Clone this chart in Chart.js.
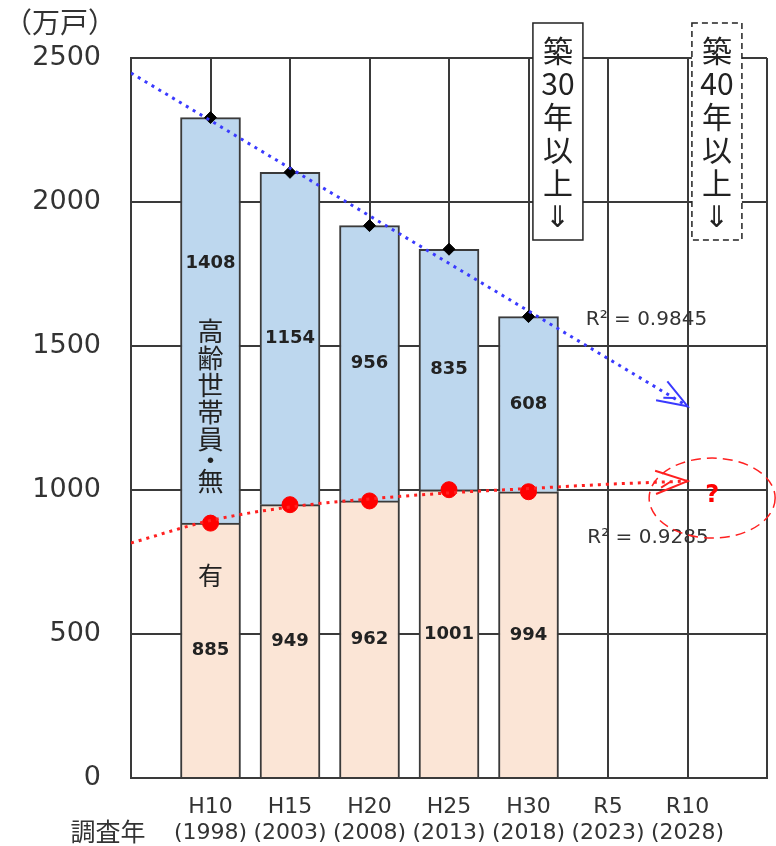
<!DOCTYPE html>
<html>
<head>
    <meta charset="utf-8">
    <title>築年数別 住宅戸数</title>
    <style>
        html, body {
            margin: 0;
            padding: 0;
            overflow: hidden;
            background-color: #ffffff;
        }
        #wrap {
            position: relative;
            width: 776px;
            height: 846px;
            overflow: hidden;
        }
        #chart {
            display: block;
        }
    </style>
    <script src="https://cdn.jsdelivr.net/npm/chart.js@4.4.0/dist/chart.umd.min.js"></script>
</head>
<body>
    <div id="wrap"><canvas id="chart"></canvas></div>
    <script>
        // data
        var categories = ["H10", "H15", "H20", "H25", "H30", "R5", "R10"];
        var years = ["(1998)", "(2003)", "(2008)", "(2013)", "(2018)", "(2023)", "(2028)"];
        var barX = [1, 2, 3, 4, 5];
        var withElderly = [885, 949, 962, 1001, 994];        // 高齢世帯員 有
        var withoutElderly = [1408, 1154, 956, 835, 608];    // 高齢世帯員 無
        var totals = [2293, 2103, 1918, 1836, 1602];
        var trendTotalX = [0, 7];
        var trendTotal = [2448, 1291];
        var trendWithX = [0, 1, 2, 3, 4, 5, 6, 7];
        var trendWith = [816, 894, 941, 969, 990, 1005, 1020, 1031];
        var yTicks = [0, 500, 1000, 1500, 2000, 2500];
        var xTicks = [0, 1, 2, 3, 4, 5, 6, 7, 8];
        var r2Labels = ["R² = 0.9845", "R² = 0.9285"];

        function pts(xs, ys) {
            return xs.map(function(x, i) { return { x: x, y: ys[i] }; });
        }

        var gridColor = "#3a3a3a";
        var textColor = "#333333";

        function arrowHead(ctx, tx, ty, angle, len, color) {
            ctx.save();
            ctx.strokeStyle = color;
            ctx.lineWidth = 2;
            ctx.beginPath();
            ctx.moveTo(tx - len * Math.cos(angle - 0.35), ty - len * Math.sin(angle - 0.35));
            ctx.lineTo(tx, ty);
            ctx.lineTo(tx - len * Math.cos(angle + 0.35), ty - len * Math.sin(angle + 0.35));
            ctx.moveTo(tx - len * 0.8 * Math.cos(angle - 0.2), ty - len * 0.8 * Math.sin(angle - 0.2));
            ctx.lineTo(tx - len * 0.5 * Math.cos(angle), ty - len * 0.5 * Math.sin(angle));
            ctx.stroke();
            ctx.restore();
        }

        function verticalBox(ctx, cx, top, lines, dashed) {
            ctx.save();
            ctx.fillStyle = "#ffffff";
            ctx.fillRect(cx - 25, top, 50, 217);
            ctx.strokeStyle = "#222222";
            ctx.lineWidth = 1.5;
            if (dashed) ctx.setLineDash([6, 4]);
            ctx.strokeRect(cx - 25, top, 50, 217);
            ctx.setLineDash([]);
            ctx.fillStyle = "#222222";
            ctx.textAlign = "center";
            ctx.textBaseline = "middle";
            ctx.font = "30px 'Noto Sans CJK JP'";
            lines.forEach(function(t, i) {
                ctx.fillText(t, cx, top + 28 + i * 33);
            });
            ctx.restore();
        }

        var extras = {
            id: "extras",
            beforeDraw: function(chart) {
                var ctx = chart.ctx;
                ctx.save();
                ctx.fillStyle = "#ffffff";
                ctx.fillRect(0, 0, chart.width, chart.height);
                ctx.restore();
            },
            afterDatasetsDraw: function(chart) {
                var ctx = chart.ctx;
                var xs = chart.scales.x;
                var ys = chart.scales.y;
                var lowMeta = chart.getDatasetMeta(4);
                ctx.save();
                ctx.fillStyle = "#222222";
                ctx.textAlign = "center";
                ctx.textBaseline = "middle";
                ctx.font = "bold 18px 'DejaVu Sans'";
                for (var i = 0; i < withElderly.length; i++) {
                    var bx = lowMeta.data[i].x;
                    ctx.fillText(String(withElderly[i]), bx, ys.getPixelForValue(withElderly[i] / 2));
                    var frac = i === 0 ? 0.64 : 0.5;
                    ctx.fillText(String(withoutElderly[i]), bx, ys.getPixelForValue(withElderly[i] + withoutElderly[i] * frac));
                }

                // vertical series names in the first bar
                var b0 = lowMeta.data[0].x;
                ctx.font = "26px 'Noto Sans CJK JP'";
                var chars = ["高", "齢", "世", "帯", "員", "・", "無"];
                var cy = 331;
                chars.forEach(function(c, k) {
                    if (c === "・" || chars[k - 1] === "・") cy -= 6;
                    ctx.fillText(c, b0, cy);
                    cy += 27;
                });
                ctx.font = "25px 'Noto Sans CJK JP'";
                ctx.fillText("有", b0, 575);

                // trend arrows
                var bx0 = xs.getPixelForValue(trendTotalX[0]), by0 = ys.getPixelForValue(trendTotal[0]);
                var bx1 = xs.getPixelForValue(trendTotalX[1]), by1 = ys.getPixelForValue(trendTotal[1]);
                arrowHead(ctx, bx1, by1, Math.atan2(by1 - by0, bx1 - bx0), 32, "#3a3aff");
                var n = trendWith.length;
                var rx0 = xs.getPixelForValue(trendWithX[n - 2]), ry0 = ys.getPixelForValue(trendWith[n - 2]);
                var rx1 = xs.getPixelForValue(trendWithX[n - 1]), ry1 = ys.getPixelForValue(trendWith[n - 1]);
                arrowHead(ctx, rx1, ry1, Math.atan2(ry1 - ry0, rx1 - rx0), 34, "#ff2020");

                // R² labels
                ctx.fillStyle = textColor;
                ctx.textAlign = "left";
                ctx.font = "20px 'DejaVu Sans'";
                ctx.fillText(r2Labels[0], xs.getPixelForValue(5.72), ys.getPixelForValue(1590));
                ctx.fillText(r2Labels[1], xs.getPixelForValue(5.74), ys.getPixelForValue(833));

                // dashed ellipse with question mark
                var ex = xs.getPixelForValue(7.31), ey = ys.getPixelForValue(972);
                ctx.strokeStyle = "#ff2020";
                ctx.lineWidth = 1.5;
                ctx.setLineDash([10, 6]);
                ctx.beginPath();
                ctx.ellipse(ex, ey, 63, 40, 0, 0, Math.PI * 2);
                ctx.stroke();
                ctx.setLineDash([]);
                ctx.fillStyle = "#ff0000";
                ctx.textAlign = "center";
                ctx.font = "bold 24px 'DejaVu Sans'";
                ctx.fillText("?", ex, ey - 2);

                // 築年数 boxes
                verticalBox(ctx, xs.getPixelForValue(5.37), 23, ["築", "30", "年", "以", "上", "⇓"], false);
                verticalBox(ctx, xs.getPixelForValue(7.37), 23, ["築", "40", "年", "以", "上", "⇓"], true);

                // axis titles
                ctx.fillStyle = textColor;
                ctx.textAlign = "center";
                ctx.font = "28px 'Noto Sans CJK JP'";
                ctx.fillText("（万戸）", 60, 22);
                ctx.font = "25px 'Noto Sans CJK JP'";
                ctx.fillText("調査年", 108, 831);
                ctx.restore();
            }
        };

        var ctx = document.getElementById("chart").getContext("2d");
        var chart = new Chart(ctx, {
            type: "bar",
            data: {
                datasets: [{
                    type: "line",
                    label: "trend total",
                    yAxisID: "y2",
                    data: pts(trendTotalX, trendTotal),
                    borderColor: "#3a3aff",
                    borderWidth: 3,
                    borderDash: [3, 5],
                    pointRadius: 0,
                    order: 0
                }, {
                    type: "line",
                    label: "trend with",
                    yAxisID: "y2",
                    data: pts(trendWithX, trendWith),
                    borderColor: "#ff2020",
                    borderWidth: 3,
                    borderDash: [3, 5],
                    cubicInterpolationMode: "monotone",
                    pointRadius: 0,
                    order: 0
                }, {
                    type: "line",
                    label: "total",
                    yAxisID: "y2",
                    data: pts(barX, totals),
                    showLine: false,
                    pointStyle: "rectRot",
                    pointRadius: 6,
                    backgroundColor: "#000000",
                    borderColor: "#000000",
                    order: 0
                }, {
                    type: "line",
                    label: "with dots",
                    yAxisID: "y2",
                    data: pts(barX, withElderly),
                    showLine: false,
                    pointRadius: 8,
                    backgroundColor: "#ff0000",
                    borderColor: "#ff0000",
                    order: 0
                }, {
                    label: "有",
                    data: pts(barX, withElderly),
                    backgroundColor: "#fbe5d6",
                    borderColor: "#3a3a3a",
                    borderWidth: 2,
                    barThickness: 60,
                    order: 1
                }, {
                    label: "無",
                    data: pts(barX, withoutElderly),
                    backgroundColor: "#bdd7ee",
                    borderColor: "#3a3a3a",
                    borderWidth: 2,
                    barThickness: 60,
                    order: 1
                }]
            },
            options: {
                responsive: true,
                maintainAspectRatio: false,
                animation: false,
                layout: {
                    padding: { top: 58, right: 9, left: 0, bottom: 0 }
                },
                plugins: {
                    legend: { display: false },
                    tooltip: { enabled: false }
                },
                scales: {
                    x: {
                        type: "linear",
                        min: 0,
                        max: 8,
                        stacked: true,
                        offset: false,
                        afterBuildTicks: function(scale) {
                            scale.ticks = xTicks.map(function(v) { return { value: v }; });
                        },
                        afterFit: function(scale) {
                            scale.height = 68;
                            scale.paddingLeft = 0;
                            scale.paddingRight = 0;
                        },
                        grid: {
                            offset: false,
                            color: gridColor,
                            lineWidth: 2,
                            drawTicks: false
                        },
                        border: { color: gridColor, width: 2 },
                        ticks: {
                            autoSkip: false,
                            maxRotation: 0,
                            padding: 16,
                            color: textColor,
                            font: { family: "DejaVu Sans", size: 22 },
                            callback: function(value) {
                                var k = Math.round(value);
                                if (k !== value || k < 1 || k > categories.length) return "";
                                return [categories[k - 1], years[k - 1]];
                            }
                        }
                    },
                    y: {
                        min: 0,
                        max: 2500,
                        stacked: true,
                        afterBuildTicks: function(scale) {
                            scale.ticks = yTicks.map(function(v) { return { value: v }; });
                        },
                        afterFit: function(scale) {
                            scale.width = 131;
                        },
                        grid: {
                            color: gridColor,
                            lineWidth: 2,
                            drawTicks: false
                        },
                        border: { color: gridColor, width: 2 },
                        ticks: {
                            padding: 30,
                            color: textColor,
                            font: { family: "DejaVu Sans", size: 27 },
                            callback: function(value) {
                                return String(value);
                            }
                        }
                    },
                    y2: {
                        display: false,
                        min: 0,
                        max: 2500
                    }
                }
            },
            plugins: [extras]
        });
    </script>
</body>
</html>
